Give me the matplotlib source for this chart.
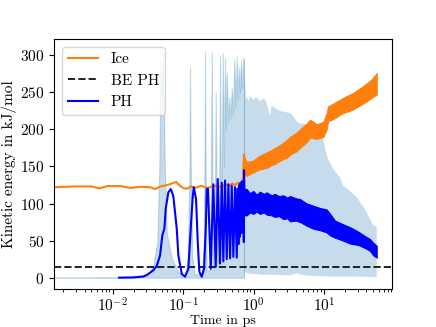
import matplotlib
matplotlib.use("Agg")
import matplotlib.pyplot as plt
import numpy as np

plt.rcParams['font.family'] = 'serif'
plt.rcParams['font.serif'] = ['cmr10', 'DejaVu Serif']
plt.rcParams['mathtext.fontset'] = 'cm'
plt.rcParams['axes.formatter.use_mathtext'] = True
plt.rcParams['font.size'] = 11

# binding energy of PH
be_ph = 15

# PH kinetic energy, single line up to the transition
ph_t = [0.0124, 0.0195, 0.0271, 0.0306, 0.0379, 0.0424, 0.0472, 0.0508, 0.0543, 0.0568,
        0.0618, 0.0669, 0.0728, 0.0814, 0.0858, 0.0959, 0.1067, 0.1189, 0.1285, 0.1374,
        0.142, 0.1528, 0.1617, 0.1703, 0.184, 0.1986, 0.2099, 0.217, 0.226, 0.247,
        0.269, 0.291, 0.3105, 0.335, 0.354, 0.373, 0.394, 0.417, 0.440, 0.4645,
        0.491, 0.517, 0.547, 0.578, 0.597, 0.61, 0.625, 0.64, 0.655, 0.67,
        0.685, 0.70, 0.715, 0.728, 0.733, 0.745]
ph_v = [0, 0.3, 1.5, 3.5, 10, 16, 30, 57, 66, 93,
        115, 119.5, 110, 66, 30, 5, 1.3, 12, 66, 110,
        122, 106, 48, 8, 1.3, 12, 66, 119.5, 120, 12,
        126, 14.7, 133, 19, 128, 22, 131, 25, 126, 26,
        124, 28, 122, 27, 120, 45, 125, 55, 128, 60,
        130, 70, 125, 48, 145, 100]

# PH noisy band after the transition (lower / upper edge)
ph_band_t = [0.745, 0.80, 0.89, 0.994, 1.1, 1.236, 1.4, 1.538, 1.8, 2.0,
             2.3, 2.65, 3.0, 3.3, 4.0, 4.57, 5.69, 7.05, 8.77, 10.9,
             12.2, 14.3, 18.6, 23.4, 30.7, 38.2, 44.9, 50.0, 55.9]
ph_lo = [84, 84, 88, 86, 89, 86, 88, 85, 84, 82,
         83, 79, 80, 76, 77, 75, 70, 66, 64, 61,
         57, 54, 50, 46, 44, 40, 36, 30, 27]
ph_hi = [120, 119.5, 114, 117, 112, 116, 113, 115, 111, 113,
         110, 111, 108, 110, 107, 106, 100, 97, 94, 92,
         86, 77, 72, 68, 62, 56, 52, 47, 43]

# Ice kinetic energy, line part
ice_t = [0.0015, 0.003, 0.005, 0.0065, 0.0085, 0.013, 0.018, 0.024, 0.028, 0.034,
         0.040, 0.048, 0.060, 0.072, 0.080, 0.090, 0.100, 0.115, 0.130, 0.150,
         0.180, 0.220, 0.260, 0.300, 0.350, 0.400, 0.450, 0.500, 0.550, 0.600,
         0.650, 0.700, 0.733]
ice_v = [122, 123, 123, 120.5, 123.5, 123.5, 121, 122.5, 122.5, 122,
         119.5, 123, 125, 127.5, 129, 124, 121, 120, 123, 121,
         124, 121, 123, 124, 122, 126, 124, 127, 125, 128,
         126, 129, 166]

# Ice noisy band after the transition
ice_band_t = [0.733, 0.745, 0.80, 0.89, 0.994, 1.2, 1.538, 1.8, 2.0, 2.3,
              2.65, 3.0, 3.3, 4.0, 4.57, 5.69, 6.33, 7.87, 9.77, 10.9,
              11.4, 13.6, 16.9, 20.0, 25.8, 32.0, 40.4, 48.0, 55.9]
ice_lo = [140, 140, 137, 140, 142, 146, 148, 152, 153, 157,
          160, 162, 166, 170, 175, 183, 189, 187, 190, 200,
          211, 214, 220, 223, 227, 232, 238, 243, 247]
ice_hi = [166, 162, 156, 157, 158, 164, 169, 172, 175, 178,
          182, 186, 190, 195, 200, 208, 213, 207, 210, 222,
          231, 235, 240, 244, 249, 255, 262, 268, 276]

# spread of the other trajectories, spike phase (lower edge is 0)
spread_early_t = [0.0015, 0.0195, 0.0271, 0.0340, 0.0379, 0.0432, 0.0461, 0.0480, 0.0496, 0.0520,
                  0.0550, 0.0587, 0.0692, 0.085, 0.100, 0.110, 0.117, 0.1236, 0.1256, 0.1285,
                  0.135, 0.145, 0.185, 0.196, 0.201, 0.205, 0.209, 0.216, 0.238, 0.248,
                  0.2553, 0.262, 0.272, 0.283, 0.291, 0.298, 0.31, 0.326, 0.335, 0.345,
                  0.355, 0.366, 0.38, 0.394, 0.405, 0.417, 0.435, 0.454, 0.47, 0.491,
                  0.51, 0.534, 0.556, 0.578, 0.60, 0.623, 0.645, 0.665, 0.685, 0.703,
                  0.72, 0.733]
spread_early_hi = [0, 0.3, 1.3, 8, 17, 48, 150, 295, 240, 303,
                   150, 60, 26, 8, 3, 5, 30, 150, 284, 150,
                   30, 5, 4, 40, 140, 306, 140, 10, 10, 120,
                   305, 120, 10, 110, 250, 110, 20, 120, 300, 80,
                   150, 303, 150, 296, 200, 276, 210, 243, 215, 256,
                   220, 294, 230, 298, 240, 283, 250, 294, 255, 281,
                   296, 296]

# spread after the transition (lower / upper edge)
spread_t = [0.733, 0.757, 0.78, 0.80, 0.85, 0.89, 0.994, 1.10, 1.236, 1.40,
            1.538, 1.713, 1.80, 2.017, 2.376, 3.297, 3.63, 4.10, 4.57, 5.69,
            6.33, 7.87, 8.77, 9.77, 10.3, 11.4, 13.6, 16.9, 18.6, 22.1,
            29.4, 38.2, 44.9, 50.0, 55.9]
spread_lo = [0, 8, 7, 6, 6, 5, 5, 5, 4, 4,
             4, 4, 4, 4, 3.5, 3, 4, 6, 4, 3,
             2.5, 2, 2, 2, 2, 1.5, 1.5, 1.5, 1.5, 1.5,
             1.3, 1.2, 1, 0.8, 0.5]
spread_hi = [296, 265, 240, 245, 238, 245, 240, 244, 238, 242,
             236, 218, 232, 229, 225, 222, 218, 211, 208, 207,
             204, 195, 191, 187, 175, 160, 146, 135, 124, 119,
             108, 92, 79, 70, 69]

fig = plt.figure(figsize=(4.36, 3.27), dpi=100)
ax = fig.add_axes([0.124, 0.116, 0.775, 0.765])

spread_color = (31 / 255, 119 / 255, 180 / 255, 0.25)
ax.fill_between(spread_early_t, 0, spread_early_hi, facecolor=spread_color,
                edgecolor=spread_color, lw=0.8)
ax.fill_between(spread_t, spread_lo, spread_hi, facecolor=spread_color, edgecolor='none')

ax.plot(ice_t, ice_v, color='#ff7f0e', lw=1.5, label='Ice')
ax.fill_between(ice_band_t, ice_lo, ice_hi, color='#ff7f0e', lw=0.8)

ax.axhline(be_ph, color='#222222', ls='--', lw=1.4, label='BE PH')

ax.plot(ph_t, ph_v, color='blue', lw=1.5, label='PH')
ax.fill_between(ph_band_t, ph_lo, ph_hi, color='blue', lw=0.8)

ax.set_xscale('log')
ax.set_xlim(0.00148, 92)
ax.set_ylim(-15.4, 322)
ax.set_yticks([0, 50, 100, 150, 200, 250, 300])
ax.tick_params(axis='x', which='major', pad=1.5)
ax.set_xlabel('Time in ps', fontsize=10)
ax.set_ylabel('Kinetic energy in kJ/mol')
ax.xaxis.set_label_coords(0.5, -0.1016)
ax.yaxis.set_label_coords(-0.11, 0.5)
ax.legend(loc='upper left')

fig.savefig('out.png', dpi=100)
